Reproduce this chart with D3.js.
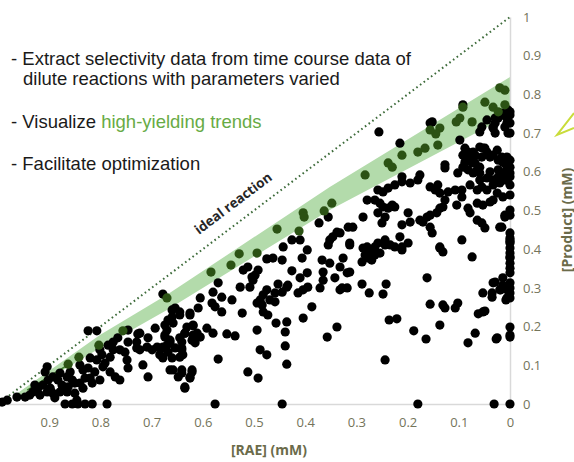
<!DOCTYPE html>
<html>
<head>
<meta charset="utf-8">
<script src="https://cdn.jsdelivr.net/npm/d3@7"></script>
<style>
  html, body { margin: 0; padding: 0; background: #fff; }
  svg { display: block; }
</style>
</head>
<body>
<svg id="chart"></svg>
<script>
// tick values for both axes (mM)
const xTicks = [1, 0.9, 0.8, 0.7, 0.6, 0.5, 0.4, 0.3, 0.2, 0.1, 0];
const yTicks = [0, 0.1, 0.2, 0.3, 0.4, 0.5, 0.6, 0.7, 0.8, 0.9, 1];

// ideal reaction: product = 1 - RAE
const idealLine = [[1, 0], [0, 1]];

// high-yielding band edges [RAE, Product]
const bandUpper = [[0.967, 0.023], [0.801, 0.178], [0.670, 0.282], [0.352, 0.561], [0, 0.845]];
const bandLower = [[0.967, 0.013], [0.801, 0.145], [0.670, 0.243], [0.352, 0.501], [0, 0.747]];
const trendLine = [[0.943, 0.036], [0.865, 0.100]];

// points inside the band [RAE, Product]
const greenPoints = [
  [0.020, 0.817], [0.010, 0.811], [0.049, 0.780], [0.033, 0.767], [0.023, 0.755], [0.010, 0.773],
  [0.092, 0.767], [0.098, 0.739], [0.074, 0.729], [0.105, 0.729], [0.137, 0.713], [0.145, 0.698],
  [0.156, 0.708], [0.166, 0.661], [0.180, 0.651], [0.141, 0.669], [0.211, 0.643], [0.238, 0.623],
  [0.230, 0.612], [0.283, 0.592], [0.348, 0.519], [0.363, 0.499], [0.404, 0.494], [0.402, 0.483],
  [0.412, 0.447], [0.455, 0.452], [0.494, 0.390], [0.529, 0.388], [0.545, 0.359], [0.584, 0.341],
  [0.670, 0.274], [0.756, 0.189], [0.803, 0.152], [0.842, 0.121], [0.863, 0.103]
];

// all other reactions [RAE, Product]
const blackPoints = [
  // low conversion corner
  [0.678, 0.284], [0.824, 0.189], [0.807, 0.189], [0.904, 0.096],
  [0.727, 0.181], [0.707, 0.171], [0.693, 0.196], [0.674, 0.178], [0.746, 0.160], [0.729, 0.160],
  [0.775, 0.160], [0.775, 0.140], [0.797, 0.127], [0.807, 0.114], [0.824, 0.093], [0.834, 0.088],
  [0.795, 0.096], [0.781, 0.083], [0.752, 0.134], [0.748, 0.114], [0.746, 0.093], [0.771, 0.070],
  [0.762, 0.062], [0.801, 0.062], [0.820, 0.067], [0.816, 0.054], [0.840, 0.054], [0.855, 0.062],
  [0.865, 0.070], [0.879, 0.080], [0.893, 0.070], [0.902, 0.062], [0.912, 0.049], [0.922, 0.041],
  [0.932, 0.031], [0.938, 0.023], [0.947, 0.018], [0.963, 0.018], [0.982, 0.010], [0.992, 0.005],
  [0.904, 0.031], [0.893, 0.028], [0.875, 0.036], [0.865, 0.031], [0.850, 0.028], [0.834, 0.041],
  [0.689, 0.147], [0.670, 0.152], [0.699, 0.140], [0.723, 0.140], [0.678, 0.119], [0.717, 0.101],
  [0.707, 0.070], [0.664, 0.088],
  [0.918, 0.023], [0.889, 0.016], [0.879, 0.031], [0.863, 0.044], [0.850, 0.054], [0.830, 0.067],
  [0.811, 0.083], [0.791, 0.106], [0.781, 0.121], [0.762, 0.140], [0.875, 0.049], [0.883, 0.062],
  [0.859, 0.083], [0.840, 0.101], [0.820, 0.119], [0.801, 0.140], [0.785, 0.152], [0.766, 0.171],
  [0.746, 0.191], [0.908, 0.083], [0.928, 0.049], [0.898, 0.041], [0.846, 0.010],
  [0.660, 0.243], [0.645, 0.230], [0.625, 0.235], [0.619, 0.204], [0.635, 0.183], [0.658, 0.209],
  [0.670, 0.191], [0.664, 0.165], [0.641, 0.160], [0.619, 0.171], [0.723, 0.183], [0.729, 0.145],
  [0.709, 0.147], [0.678, 0.145], [0.668, 0.134], [0.641, 0.140], [0.645, 0.121], [0.660, 0.119],
  [0.684, 0.127], [0.658, 0.088], [0.641, 0.088], [0.621, 0.088], [0.635, 0.044], [0.625, 0.067],
  // sitting on the x axis
  [0.869, 0], [0.855, 0], [0.844, 0], [0.830, 0], [0.816, 0], [0.787, 0], [0.576, 0], [0.445, 0],
  [0.180, 0], [0.031, 0], [0, 0],
  // middle
  [0.373, 0.468], [0.355, 0.483], [0.338, 0.444], [0.352, 0.424], [0.355, 0.411], [0.396, 0.398],
  [0.410, 0.424], [0.426, 0.424], [0.443, 0.406], [0.445, 0.372], [0.463, 0.377], [0.475, 0.375],
  [0.406, 0.377], [0.426, 0.344], [0.410, 0.326], [0.396, 0.339], [0.395, 0.302], [0.404, 0.295],
  [0.414, 0.287], [0.434, 0.307], [0.453, 0.310], [0.445, 0.289], [0.436, 0.302], [0.371, 0.300],
  [0.365, 0.320], [0.365, 0.341], [0.367, 0.372], [0.352, 0.364], [0.342, 0.326], [0.332, 0.295],
  [0.387, 0.251], [0.404, 0.222], [0.436, 0.212], [0.457, 0.209], [0.459, 0.287], [0.459, 0.264],
  [0.469, 0.269], [0.475, 0.295], [0.482, 0.282], [0.488, 0.269], [0.484, 0.256], [0.482, 0.238],
  [0.494, 0.261], [0.473, 0.230], [0.492, 0.346], [0.498, 0.333], [0.502, 0.320], [0.508, 0.302],
  [0.504, 0.328], [0.512, 0.354], [0.521, 0.346], [0.527, 0.302], [0.523, 0.235], [0.543, 0.269],
  [0.570, 0.313], [0.580, 0.289], [0.563, 0.276], [0.582, 0.261], [0.576, 0.251], [0.563, 0.238],
  [0.605, 0.274], [0.609, 0.248], [0.625, 0.230], [0.631, 0.199], [0.619, 0.202], [0.645, 0.238],
  [0.654, 0.248], [0.660, 0.225], [0.668, 0.217], [0.674, 0.204], [0.674, 0.173], [0.664, 0.158],
  [0.654, 0.145], [0.678, 0.147], [0.641, 0.145], [0.639, 0.127], [0.645, 0.171], [0.635, 0.183],
  [0.619, 0.178], [0.605, 0.173], [0.615, 0.158], [0.621, 0.165], [0.611, 0.183], [0.592, 0.196],
  [0.580, 0.183], [0.553, 0.181], [0.537, 0.176], [0.570, 0.116], [0.488, 0.140], [0.475, 0.127],
  [0.494, 0.191], [0.439, 0.186], [0.439, 0.150], [0.436, 0.103], [0.512, 0.083], [0.492, 0.067],
  [0.621, 0.083], [0.625, 0.070], [0.641, 0.080], [0.648, 0.070], [0.635, 0.041], [0.357, 0.173],
  [0.338, 0.199],
  // upper right
  [0.256, 0.703], [0.215, 0.674], [0.152, 0.729], [0.092, 0.773], [0.098, 0.682], [0.059, 0.703],
  [0.033, 0.716], [0.029, 0.739], [0.014, 0.752], [0, 0.755], [0.006, 0.726], [0, 0.700],
  [0.088, 0.661], [0.072, 0.651], [0.049, 0.661], [0.084, 0.643], [0.088, 0.625], [0.074, 0.623],
  [0.064, 0.605], [0.055, 0.638], [0.033, 0.643], [0.023, 0.630], [0.014, 0.625], [0.006, 0.610],
  [0, 0.597], [0.023, 0.605], [0.039, 0.600], [0.045, 0.584], [0.059, 0.579], [0.078, 0.566],
  [0.064, 0.553], [0.055, 0.561], [0.045, 0.553], [0.033, 0.566], [0.020, 0.571], [0.010, 0.579],
  [0, 0.566], [0.025, 0.545], [0.014, 0.535], [0, 0.540], [0.039, 0.522], [0.064, 0.519],
  [0.082, 0.506], [0.127, 0.618], [0.127, 0.610], [0.176, 0.592], [0.180, 0.579], [0.195, 0.571],
  [0.211, 0.587], [0.156, 0.561], [0.141, 0.566], [0.146, 0.553], [0.137, 0.545], [0.127, 0.527],
  [0.121, 0.548], [0.107, 0.553], [0.094, 0.553], [0.094, 0.535], [0.104, 0.514], [0.078, 0.494],
  [0.064, 0.475], [0.055, 0.468], [0.020, 0.457], [0.010, 0.483], [0, 0.488], [0, 0.442],
  [0, 0.419], [0.094, 0.424], [0.131, 0.509], [0.137, 0.506], [0.143, 0.494], [0.156, 0.488],
  [0.162, 0.483], [0.170, 0.470], [0.156, 0.457], [0.152, 0.442], [0.176, 0.475], [0.199, 0.494],
  [0.195, 0.470], [0.211, 0.463], [0.215, 0.432], [0.225, 0.406], [0.244, 0.424], [0.234, 0.411],
  [0.250, 0.468], [0.244, 0.483], [0.258, 0.494], [0.230, 0.514], [0.225, 0.509], [0.238, 0.506],
  [0.248, 0.509], [0.254, 0.519], [0.264, 0.527], [0.258, 0.553], [0.248, 0.548], [0.238, 0.558],
  [0.225, 0.566], [0.211, 0.574], [0.279, 0.527], [0.287, 0.483], [0.307, 0.457], [0.316, 0.457],
  [0.332, 0.442], [0.346, 0.432], [0.313, 0.416], [0.279, 0.406], [0.264, 0.406], [0.211, 0.406],
  [0.199, 0.416], [0.137, 0.406],
  [0.004, 0.760], [0, 0.747], [0.006, 0.739], [0, 0.726], [0.016, 0.747], [0.023, 0.739],
  [0.029, 0.726], [0.010, 0.716], [0.004, 0.700], [0.045, 0.734], [0.055, 0.716], [0.033, 0.713],
  [0.029, 0.700], [0.059, 0.664], [0.082, 0.651], [0.068, 0.643], [0.092, 0.643], [0.053, 0.661],
  [0.045, 0.651], [0.039, 0.638], [0.078, 0.630], [0.068, 0.623], [0.059, 0.612], [0.025, 0.656],
  [0.016, 0.638], [0.006, 0.638], [0.010, 0.623], [0, 0.630], [0, 0.612], [0.059, 0.597],
  [0.072, 0.597], [0.082, 0.605], [0.092, 0.612], [0.102, 0.597], [0, 0.587], [0.006, 0.579],
  [0.014, 0.597], [0.023, 0.587], [0.033, 0.579], [0.156, 0.726],
  // lower right
  [0.313, 0.411], [0.287, 0.403], [0.273, 0.393], [0.283, 0.385], [0.277, 0.377], [0.264, 0.385],
  [0.270, 0.372], [0.289, 0.367], [0.254, 0.390], [0.258, 0.416], [0.244, 0.411], [0.211, 0.398],
  [0.137, 0.403], [0.131, 0.393], [0.074, 0.380], [0.326, 0.377], [0.332, 0.354], [0.318, 0.339],
  [0.313, 0.341], [0.328, 0.300], [0.318, 0.300], [0.289, 0.310], [0.275, 0.287], [0.248, 0.284],
  [0.242, 0.310], [0.162, 0.326], [0.156, 0.258], [0.131, 0.256], [0.127, 0.248], [0.107, 0.248],
  [0.102, 0.261], [0.062, 0.233], [0.049, 0.240], [0.033, 0.313], [0.014, 0.326], [0.018, 0.295],
  [0.053, 0.287], [0.035, 0.287], [0.035, 0.276], [0.008, 0.269], [0, 0.274], [0, 0.424],
  [0, 0.380], [0, 0.364], [0, 0.351], [0, 0.339], [0, 0.313], [0, 0.300], [0, 0.287],
  [0.236, 0.217], [0.221, 0.220], [0.188, 0.189], [0.164, 0.168], [0.137, 0.204], [0.068, 0.183],
  [0.082, 0.158], [0.027, 0.168], [0, 0.199], [0, 0.173], [0.244, 0.114],
  [0, 0.501], [0.010, 0.488], [0.016, 0.457], [0.049, 0.455], [0, 0.429], [0, 0.416],
  [0, 0.403], [0, 0.390], [0, 0.377], [0.006, 0.295], [0.006, 0.274], [0.014, 0.307],
  [0.020, 0.295], [0.029, 0.315], [0.053, 0.238], [0, 0.178], [0.025, 0.171], [0.033, 0.527],
  [0.053, 0.514]
];

const W = 574, H = 462;
const svg = d3.select('#chart').attr('width', W).attr('height', H);

const x = d3.scaleLinear().domain([1, 0]).range([-2, 510]);
const y = d3.scaleLinear().domain([0, 1]).range([404, 17]);

const fmt = d => (d === 0 || d === 1) ? String(d) : d3.format('.1f')(d);
const tickColor = '#74745a';
const tickFont = '"Open Sans", sans-serif';

// band
const band = bandUpper.concat(bandLower.slice().reverse());
svg.append('path')
  .attr('d', d3.line().x(d => x(d[0])).y(d => y(d[1]))(band) + 'Z')
  .attr('fill', '#b3dbab');

// axes
const xAxis = svg.append('g')
  .attr('transform', `translate(0,${y(0)})`)
  .call(d3.axisBottom(x).tickValues(xTicks).tickFormat(fmt).tickSize(0).tickPadding(14));
const yAxis = svg.append('g')
  .attr('transform', `translate(${x(0)},0)`)
  .call(d3.axisRight(y).tickValues(yTicks).tickFormat(fmt).tickSize(0).tickPadding(13));

[xAxis, yAxis].forEach(g => {
  g.select('.domain').attr('stroke', '#d9d9d9').attr('stroke-width', 1.5);
  g.selectAll('text')
    .attr('fill', tickColor)
    .style('font-family', tickFont)
    .style('font-size', '13px');
});

// ideal reaction line
svg.append('path')
  .attr('d', d3.line().x(d => x(d[0])).y(d => y(d[1]))(idealLine))
  .attr('stroke', '#3d6b3a')
  .attr('stroke-width', 2)
  .attr('stroke-dasharray', '1.6,3')
  .attr('fill', 'none');

svg.append('text')
  .attr('transform', 'translate(236,207) rotate(-37)')
  .attr('text-anchor', 'middle')
  .style('font-family', '"Open Sans", sans-serif')
  .style('font-size', '13.5px')
  .style('font-weight', 'bold')
  .attr('fill', '#262626')
  .text('ideal reaction');

// trend line inside band
svg.append('path')
  .attr('d', d3.line().x(d => x(d[0])).y(d => y(d[1]))(trendLine))
  .attr('stroke', '#3d7a2a')
  .attr('stroke-width', 1.5)
  .attr('fill', 'none');

// points
svg.append('g').selectAll('circle')
  .data(blackPoints)
  .enter().append('circle')
  .attr('cx', d => x(d[0]))
  .attr('cy', d => y(d[1]))
  .attr('r', 4.6)
  .attr('fill', '#000');

svg.append('g').selectAll('circle')
  .data(greenPoints)
  .enter().append('circle')
  .attr('cx', d => x(d[0]))
  .attr('cy', d => y(d[1]))
  .attr('r', 4.6)
  .attr('fill', '#2b5214');

// axis titles
svg.append('text')
  .attr('x', 269)
  .attr('y', 455)
  .attr('text-anchor', 'middle')
  .style('font-family', tickFont)
  .style('font-size', '14px')
  .style('font-weight', 'bold')
  .attr('fill', '#6b6b4a')
  .text('[RAE] (mM)');

svg.append('text')
  .attr('transform', 'translate(568,220) rotate(-90)')
  .attr('text-anchor', 'middle')
  .attr('dominant-baseline', 'middle')
  .style('font-family', tickFont)
  .style('font-size', '14px')
  .style('font-weight', 'bold')
  .attr('fill', '#6b6b4a')
  .text('[Product] (mM)');

// arrow tip coming from the right
svg.append('path')
  .attr('d', 'M574,113 L557,135 L574,128')
  .attr('stroke', '#c9dc3a')
  .attr('stroke-width', 2)
  .attr('fill', 'none');

// bullet notes
const notes = svg.append('g')
  .style('font-family', '"Liberation Sans", Arial, sans-serif')
  .style('font-size', '18.5px')
  .attr('fill', '#1a1a1a');

notes.append('text').attr('x', 11).attr('y', 65)
  .text('- Extract selectivity data from time course data of');
notes.append('text').attr('x', 23).attr('y', 85)
  .text('dilute reactions with parameters varied');
const vis = notes.append('text').attr('x', 11).attr('y', 128);
vis.append('tspan').text('- Visualize ');
vis.append('tspan').attr('fill', '#67ab45').text('high-yielding trends');
notes.append('text').attr('x', 11).attr('y', 170)
  .text('- Facilitate optimization');
</script>
</body>
</html>
